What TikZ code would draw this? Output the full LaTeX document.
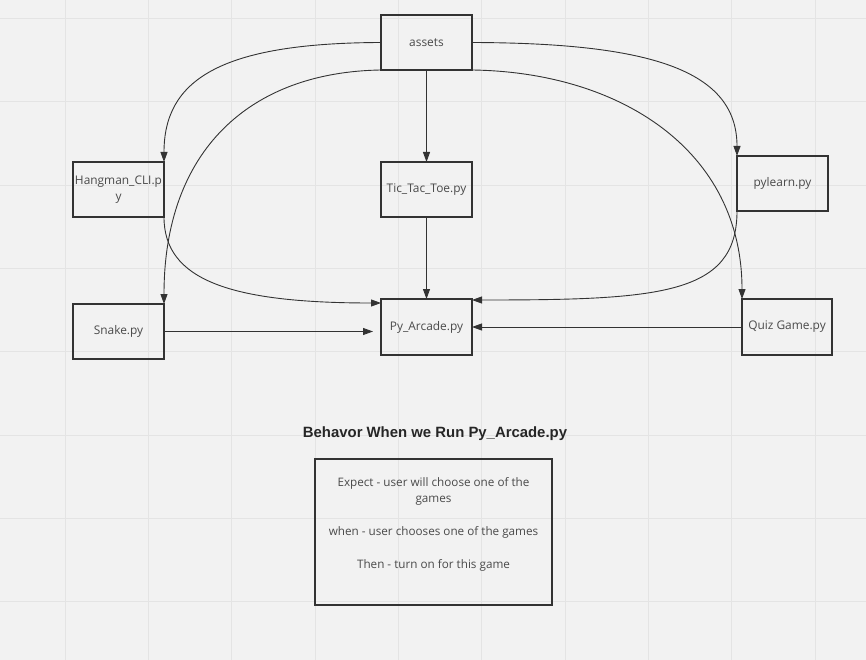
\documentclass[tikz,border=0pt]{standalone}
\usepackage{fontspec}
\setmainfont{Open Sans}
\newfontfamily\titlefont{Liberation Sans}
\usetikzlibrary{arrows.meta}
\definecolor{bg}{HTML}{F2F2F2}
\definecolor{gridc}{HTML}{E4E4E4}
\definecolor{ink}{HTML}{333333}
\definecolor{txt}{HTML}{4A4A4A}
\tikzset{
  box/.style={draw=ink, line width=1.8pt, minimum width=91pt, minimum height=55pt,
    inner sep=0pt, outer sep=0pt, font=\fontsize{11.9}{16}\selectfont, text=txt, align=center},
  conn/.style={draw=ink, line width=0.9pt, -{Triangle[length=10pt,width=7pt]}},
}
\begin{document}
\begin{tikzpicture}[x=1pt,y=-1pt]
\useasboundingbox (0,0) rectangle (866,660);
\fill[bg] (0,0) rectangle (866,660);
\foreach \i in {0,...,10} {\draw[gridc, line width=0.8pt] ({-18.3+83.33*\i},0) -- ({-18.3+83.33*\i},660);}
\foreach \j in {0,...,7} {\draw[gridc, line width=0.8pt] (0,{18.5+83.33*\j}) -- (866,{18.5+83.33*\j});}

\node[box] (assets) at (426.5,42.5) {assets};
\node[box] (tic) at (426.5,189.5) {Tic\_Tac\_Toe.py};
\node[box, minimum height=56pt] (arcade) at (426.5,327) {Py\_Arcade.py};
\node[box] (hang) at (118.5,189.5) {Hangman\_CLI.p\\y};
\node[box] (snake) at (118.5,331.5) {Snake.py};
\node[box] (pylearn) at (782.5,183.5) {pylearn.py};
\node[box, minimum width=90pt, minimum height=56pt] (quiz) at (787,327) {Quiz Game.py};

\draw[conn] (assets.west) .. controls (220,43) and (164,80) .. (hang.north east);
\draw[conn] (assets.south west) .. controls (250,72) and (164,150) .. (snake.north east);
\draw[conn] (assets) -- (tic);
\draw[conn] (assets.east) .. controls (650,43) and (737,70) .. (pylearn.north west);
\draw[conn] (assets.south east) .. controls (620,72) and (742,150) .. (quiz.north west);
\draw[conn] (tic) -- (arcade);
\draw[conn] (hang.south east) .. controls (164,280) and (230,303) .. ([yshift=-4pt]arcade.north west);
\draw[conn] (pylearn.south west) .. controls (737,295) and (660,300) .. ([yshift=-1pt]arcade.north east);
\draw[conn, shorten >=8pt] (snake.east) -- (snake.east -| arcade.west);
\draw[conn] (quiz.west) -- (arcade.east);

\node[font=\titlefont\bfseries\fontsize{14.9}{17}\selectfont, text=black!85] (title) at (435,434) {Behavor When we Run Py\_Arcade.py};
\node[draw=ink, line width=1.8pt, minimum width=237pt, minimum height=146pt, inner sep=0pt] (behav) at (433.5,532) {};
\node[font=\fontsize{11.7}{16}\selectfont, text=txt, align=center, anchor=north] (btext) at (433.5,474.5)
  {Expect - user will choose one of the\\games\\[17pt]when - user chooses one of the games\\[17pt]Then - turn on for this game};
\end{tikzpicture}
\end{document}
